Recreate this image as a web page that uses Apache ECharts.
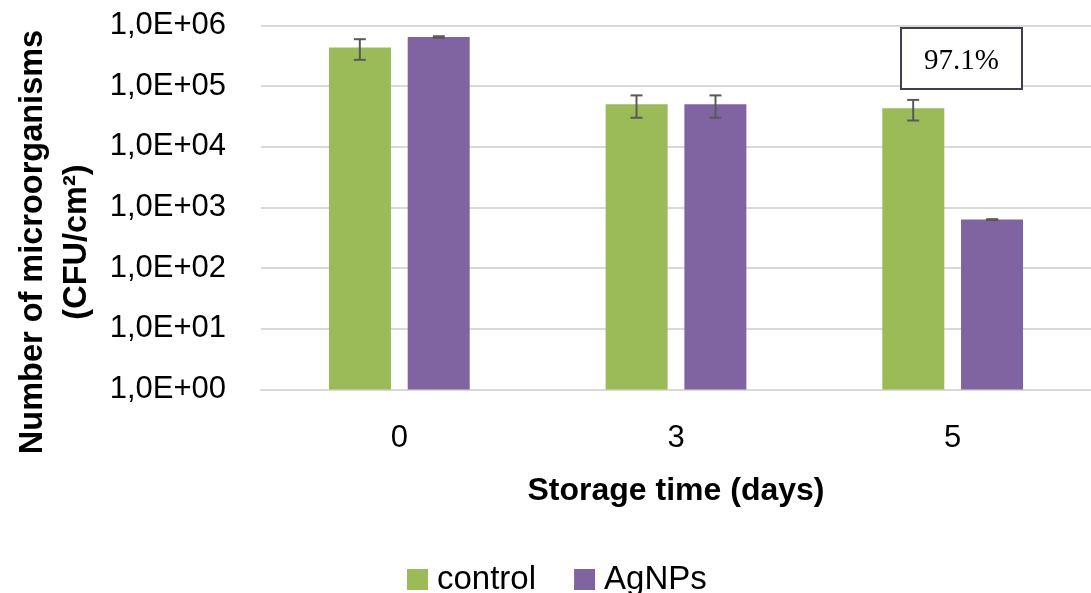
<!DOCTYPE html>
<html>
<head>
<meta charset="utf-8">
<script src="https://cdn.jsdelivr.net/npm/echarts@6/dist/echarts.min.js"></script>
<style>
html,body{margin:0;padding:0;background:#fff;}
#chart{width:1091px;height:593px;}
</style>
</head>
<body>
<div id="chart"></div>
<script>
// ---- data ----
const categories = ['0', '3', '5'];
const controlValues = [4.3e5, 5.0e4, 4.3e4];
const controlErrors = [1.6e5, 2.0e4, 1.6e4];
const agnpsValues = [6.4e5, 5.0e4, 630];
const agnpsErrors = [2.0e4, 2.0e4, 10];
const yTickLabels = ['1,0E+00', '1,0E+01', '1,0E+02', '1,0E+03', '1,0E+04', '1,0E+05', '1,0E+06'];
const seriesNames = ['control', 'AgNPs'];
const annotationText = '97.1%';
const yTitle = 'Number of microorganisms\n(CFU/cm²)';
const xTitle = 'Storage time (days)';

const GREEN = '#9BBB59';
const PURPLE = '#8064A2';
const FONT = 'Liberation Sans, Arial, sans-serif';

const chart = echarts.init(document.getElementById('chart'));

function errorSeries(values, errors, offset) {
  return {
    type: 'custom',
    silent: true,
    z: 10,
    data: values.map((v, i) => [i, v, errors[i]]),
    renderItem: function (params, api) {
      const i = api.value(0), v = api.value(1), e = api.value(2);
      const top = api.coord([i, v + e]);
      const bot = api.coord([i, Math.max(v - e, 1e-3)]);
      const x = top[0] + offset;
      const cap = 6;
      const style = { stroke: '#595959', lineWidth: 2 };
      return {
        type: 'group',
        children: [
          { type: 'line', shape: { x1: x, y1: top[1], x2: x, y2: bot[1] }, style: style },
          { type: 'line', shape: { x1: x - cap, y1: top[1], x2: x + cap, y2: top[1] }, style: style },
          { type: 'line', shape: { x1: x - cap, y1: bot[1], x2: x + cap, y2: bot[1] }, style: style }
        ]
      };
    }
  };
}

const option = {
  backgroundColor: '#ffffff',
  animation: false,
  grid: { left: 261, top: 25.3, width: 835, height: 364.2 },
  legend: {
    data: seriesNames,
    left: 407, top: 563,
    padding: 0,
    itemWidth: 21, itemHeight: 21, itemGap: 38,
    icon: 'rect',
    textStyle: { fontFamily: FONT, fontSize: 33, color: '#000', padding: [0, 0, 0, 4] }
  },
  xAxis: {
    type: 'category',
    data: categories,
    axisLine: { show: true, lineStyle: { color: '#D9D9D9', width: 2 } },
    axisTick: { show: false },
    axisLabel: { fontFamily: FONT, fontSize: 31, color: '#000', margin: 33 },
    name: xTitle,
    nameLocation: 'middle',
    nameGap: 86,
    nameTextStyle: { fontFamily: FONT, fontSize: 32, fontWeight: 'bold', color: '#000' }
  },
  yAxis: {
    type: 'log',
    logBase: 10,
    min: 1,
    max: 1e6,
    axisLine: { show: false },
    axisTick: { show: false },
    splitLine: { lineStyle: { color: '#D9D9D9', width: 2 } },
    axisLabel: {
      fontFamily: FONT, fontSize: 31, color: '#000', margin: 35,
      padding: [11, 0, 0, 0],
      formatter: function (v) {
        const k = Math.round(Math.log10(v));
        return yTickLabels[k] !== undefined ? yTickLabels[k] : '';
      }
    }
  },
  series: [
    {
      name: seriesNames[0], type: 'bar', data: controlValues,
      barWidth: 62, barGap: '27%',
      itemStyle: { color: GREEN }
    },
    {
      name: seriesNames[1], type: 'bar', data: agnpsValues,
      barWidth: 62, barGap: '27%',
      itemStyle: { color: PURPLE }
    },
    errorSeries(controlValues, controlErrors, -39.5),
    errorSeries(agnpsValues, agnpsErrors, 39.5)
  ],
  graphic: [
    {
      type: 'text',
      x: 55, y: 242,
      rotation: Math.PI / 2,
      style: {
        text: yTitle,
        font: 'bold 32.5px ' + FONT,
        fill: '#000',
        textAlign: 'center',
        textVerticalAlign: 'middle',
        lineHeight: 44
      }
    },
    {
      type: 'rect',
      shape: { x: 901, y: 28, width: 121, height: 61 },
      style: { fill: '#fff', stroke: '#3F3F4F', lineWidth: 2 },
      z: 100
    },
    {
      type: 'text',
      x: 961.5, y: 61,
      z: 101,
      style: {
        text: annotationText,
        font: '29px Liberation Serif, serif',
        fill: '#000',
        textAlign: 'center',
        textVerticalAlign: 'middle'
      }
    }
  ]
};
chart.setOption(option);
</script>
</body>
</html>
